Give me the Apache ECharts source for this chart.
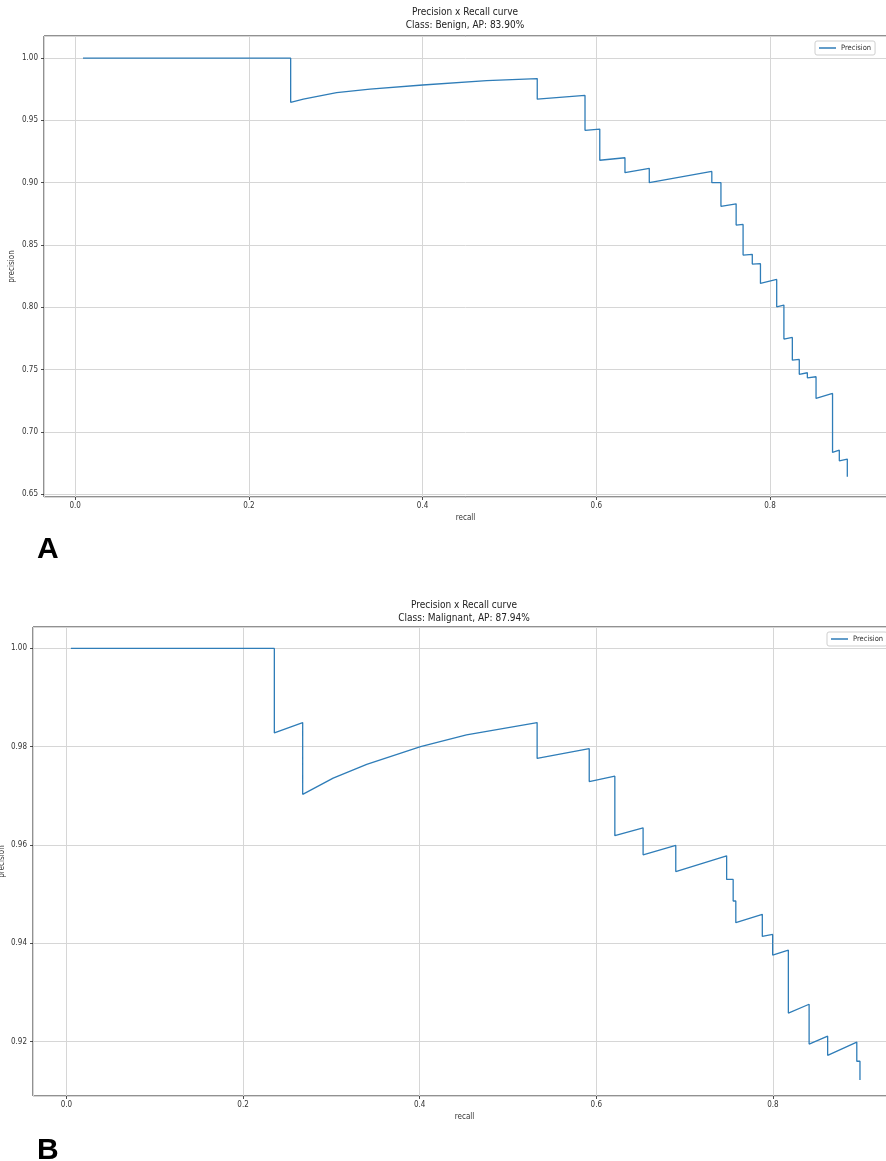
<!DOCTYPE html>
<html>
<head>
<meta charset="utf-8">
<script src="https://cdn.jsdelivr.net/npm/echarts@6/dist/echarts.min.js"></script>
<style>
html,body{margin:0;padding:0;background:#fff;overflow:hidden;}
#chart{width:886px;height:1161px;}
</style>
</head>
<body>
<div id="chart"></div>
<script>
// ---- Panel A: Benign ----
const titleA = ['Precision x Recall curve', 'Class: Benign, AP: 83.90%'];
const recallA = [0.009, 0.2481, 0.2481, 0.2627, 0.301, 0.3394, 0.4001, 0.4738, 0.532, 0.532, 0.587, 0.587, 0.604, 0.604, 0.633, 0.633, 0.661, 0.661, 0.733, 0.733, 0.7435, 0.7435, 0.761, 0.761, 0.769, 0.769, 0.7796, 0.7796, 0.789, 0.789, 0.8077, 0.8077, 0.816, 0.816, 0.8257, 0.8257, 0.8337, 0.8337, 0.843, 0.843, 0.853, 0.853, 0.872, 0.872, 0.8798, 0.8798, 0.889, 0.889];
const precisionA = [1.0, 1.0, 0.9645, 0.967, 0.9722, 0.975, 0.9784, 0.9819, 0.9835, 0.967, 0.970, 0.942, 0.943, 0.918, 0.920, 0.908, 0.9115, 0.900, 0.909, 0.900, 0.900, 0.881, 0.883, 0.866, 0.8665, 0.8419, 0.8425, 0.8347, 0.835, 0.8192, 0.8224, 0.8004, 0.8018, 0.7745, 0.7758, 0.7576, 0.7582, 0.7462, 0.7475, 0.7434, 0.7443, 0.7269, 0.7309, 0.6836, 0.6854, 0.6768, 0.6782, 0.664];

// ---- Panel B: Malignant ----
const titleB = ['Precision x Recall curve', 'Class: Malignant, AP: 87.94%'];
const recallB = [0.005, 0.2354, 0.2354, 0.2675, 0.2675, 0.302, 0.340, 0.401, 0.453, 0.533, 0.533, 0.592, 0.592, 0.621, 0.621, 0.653, 0.653, 0.690, 0.690, 0.7476, 0.7476, 0.755, 0.755, 0.758, 0.758, 0.788, 0.788, 0.7997, 0.7997, 0.8175, 0.8175, 0.841, 0.841, 0.862, 0.862, 0.895, 0.895, 0.8986, 0.8986];
const precisionB = [1.0, 1.0, 0.9828, 0.9849, 0.9703, 0.9736, 0.9764, 0.980, 0.9824, 0.9849, 0.9776, 0.9796, 0.9729, 0.9740, 0.9619, 0.9635, 0.9580, 0.9599, 0.9546, 0.9578, 0.9530, 0.9530, 0.9486, 0.9486, 0.9442, 0.9459, 0.9414, 0.9418, 0.9376, 0.9386, 0.9258, 0.9276, 0.9195, 0.9211, 0.9172, 0.9199, 0.9160, 0.9160, 0.9122];

const seriesName = 'Precision';
const xName = 'recall';
const yName = 'precision';
const panelLabels = ['A', 'B'];

const zip = (xs, ys) => xs.map((x, i) => [x, ys[i]]);

const FONT = '"DejaVu Sans Condensed", "Liberation Sans Narrow", "DejaVu Sans", sans-serif';
const LINE = '#2f7db8';
const GRIDC = '#d6d6d6';
const AX = '#222';

function xAxisCfg(idx, min, max) {
  return {
    type: 'value', gridIndex: idx, min: min, max: max, splitNumber: 5,
    name: xName, nameLocation: 'middle', nameGap: 17,
    nameTextStyle: {fontFamily: FONT, fontSize: 8, color: '#333'},
    axisLine: {show: false, onZero: false},
    axisTick: {show: true, length: 3, lineStyle: {color: AX, width: 0.8}},
    axisLabel: {fontFamily: FONT, fontSize: 8, color: '#333', margin: 5,
      showMinLabel: false, showMaxLabel: false,
      formatter: v => v.toFixed(1)},
    splitLine: {show: true, lineStyle: {color: GRIDC, width: 1}}
  };
}
function yAxisCfg(idx, min, max, split, gap) {
  return {
    type: 'value', gridIndex: idx, min: min, max: max, splitNumber: split,
    name: yName, nameLocation: 'middle', nameGap: gap, nameMoveOverlap: false,
    nameTextStyle: {fontFamily: FONT, fontSize: 8, color: '#333'},
    axisLine: {show: false, onZero: false},
    axisTick: {show: true, length: 3, lineStyle: {color: AX, width: 0.8}},
    axisLabel: {fontFamily: FONT, fontSize: 8, color: '#333', margin: 6,
      showMinLabel: false, showMaxLabel: false,
      formatter: v => v.toFixed(2)},
    splitLine: {show: true, lineStyle: {color: GRIDC, width: 1}}
  };
}
function legendCfg(idx, left, top) {
  return {
    show: true, left: left, top: top, orient: 'vertical',
    data: [{name: seriesName, icon: 'rect'}],
    itemWidth: 17, itemHeight: 1.5,
    padding: [3, 4, 3, 4],
    backgroundColor: '#fff', borderColor: '#cfcfcf', borderWidth: 1, borderRadius: 2,
    textStyle: {fontFamily: FONT, fontSize: 7.5, color: '#333'},
    selectedMode: false
  };
}
function titleText(x, y, lines) {
  return {type: 'text', x: x, y: y, silent: true,
    style: {text: lines.join('\n'), textAlign: 'center', fontFamily: FONT, fontSize: 10, lineHeight: 13, fill: '#222'}};
}

const chart = echarts.init(document.getElementById('chart'), null, {renderer: 'canvas'});
chart.setOption({
  animation: false,
  backgroundColor: '#fff',
  grid: [
    {left: 44, top: 36, width: 843, height: 461, show: true, borderColor: AX, borderWidth: 1, backgroundColor: 'transparent', containLabel: false, outerBoundsMode: 'none'},
    {left: 33, top: 627, width: 863, height: 469, show: true, borderColor: AX, borderWidth: 1, backgroundColor: 'transparent', containLabel: false, outerBoundsMode: 'none'}
  ],
  xAxis: [xAxisCfg(0, -0.0359, 0.9347), xAxisCfg(1, -0.0379, 0.9394)],
  yAxis: [yAxisCfg(0, 0.6478, 1.0177, 7, 28), yAxisCfg(1, 0.90893, 1.00435, 5, 27)],
  legend: [legendCfg(0, 815, 41), legendCfg(1, 827, 632)],
  series: [
    {name: seriesName, type: 'line', xAxisIndex: 0, yAxisIndex: 0, data: zip(recallA, precisionA),
      showSymbol: false, symbol: 'none', clip: true, lineStyle: {color: LINE, width: 1.3}, itemStyle: {color: LINE}},
    {name: seriesName, type: 'line', xAxisIndex: 1, yAxisIndex: 1, data: zip(recallB, precisionB),
      showSymbol: false, symbol: 'none', clip: true, lineStyle: {color: LINE, width: 1.3}, itemStyle: {color: LINE}}
  ],
  graphic: [
    titleText(465, 6, titleA),
    titleText(464, 599, titleB),
    {type: 'text', x: 37, y: 535, style: {text: panelLabels[0], fontFamily: '"Liberation Sans", Arial, sans-serif', fontWeight: 'bold', fontSize: 30, fill: '#000'}},
    {type: 'text', x: 37, y: 1136, style: {text: panelLabels[1], fontFamily: '"Liberation Sans", Arial, sans-serif', fontWeight: 'bold', fontSize: 30, fill: '#000'}}
  ]
});
</script>
</body>
</html>
